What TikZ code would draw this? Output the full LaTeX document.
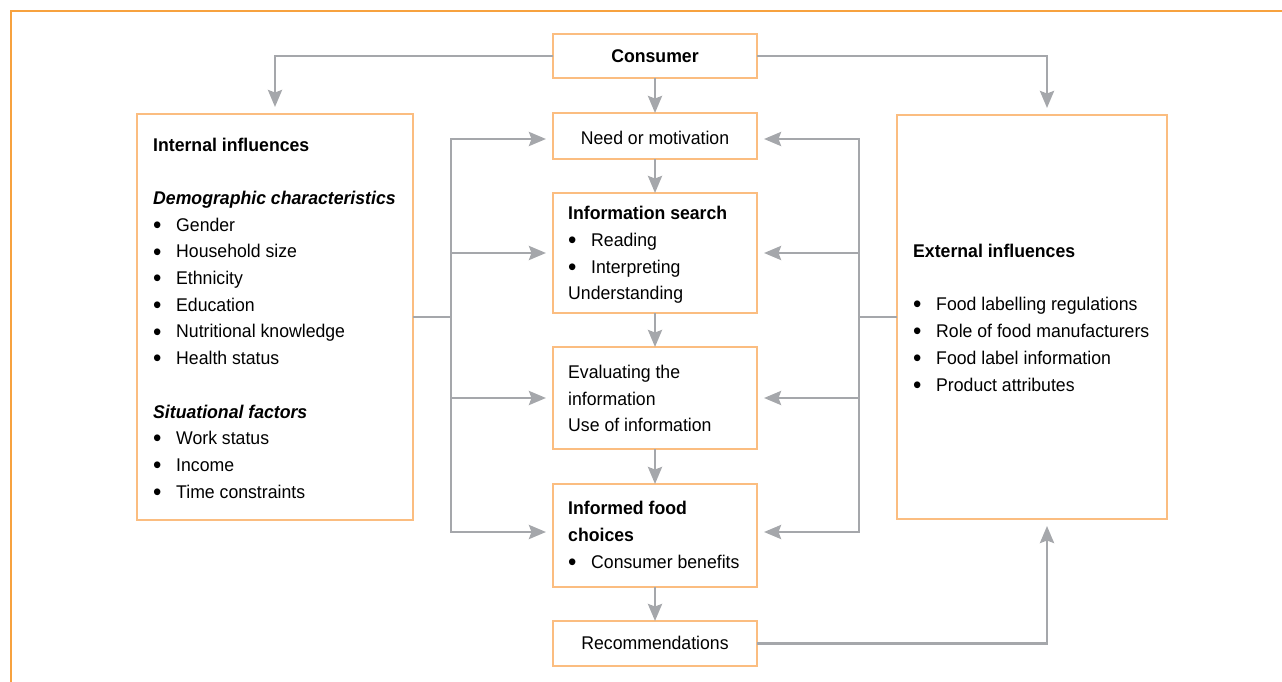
\documentclass[tikz,border=0pt]{standalone}
\usepackage{fontspec}
\setmainfont{Liberation Sans}[FakeStretch=0.96]
\usetikzlibrary{arrows.meta,calc}
\definecolor{arrgray}{HTML}{A5A7AB}
\definecolor{boxor}{HTML}{FBBD80}
\definecolor{frameor}{HTML}{F7A23F}
\newcommand\bul{\makebox[23pt][l]{\raisebox{-2.2pt}{\scalebox{1.35}{\textbullet}}}}
\begin{document}
\begin{tikzpicture}[x=1pt,y=-1pt,
  box/.style={draw=boxor,line width=1.5pt,inner sep=0pt,outer sep=0pt},
  conn/.style={draw=arrgray,line width=2.8pt},
  arr/.style={conn,-{Stealth[length=17pt,width=14pt,inset=2.5pt]}},
  gap/.style={shorten >=7pt},
  txt/.style={anchor=base west,inner sep=0pt},
  ctxt/.style={anchor=base,inner sep=0pt},
  every node/.style={font=\fontsize{18.4}{26.7}\selectfont}]
\useasboundingbox (0,0) rectangle (1282,682);
\draw[frameor,line width=2pt] (10.5,682) -- (10.5,11) -- (1282,11);

% boxes
\node[box,minimum width=204pt,minimum height=44pt] (cons) at (655,56) {};
\node[box,minimum width=204pt,minimum height=46pt] (need) at (655,136) {};
\node[box,minimum width=204pt,minimum height=120pt] (info) at (655,253) {};
\node[box,minimum width=204pt,minimum height=102pt] (eval) at (655,398) {};
\node[box,minimum width=204pt,minimum height=103pt] (inf) at (655,535.5) {};
\node[box,minimum width=204pt,minimum height=45pt] (rec) at (655,643.5) {};
\node[box,minimum width=276pt,minimum height=406pt] (int) at (275,317) {};
\node[box,minimum width=270pt,minimum height=404pt] (ext) at (1032,317) {};

% texts in centre boxes
\node[ctxt,font=\fontsize{18.4}{26.7}\selectfont\bfseries] (tcons) at (655,63) {Consumer};
\node[ctxt] (tneed) at (655,145) {Need or motivation};
\node[ctxt] (trec) at (655,649.5) {Recommendations};
\node[txt,font=\fontsize{18.4}{26.7}\selectfont\bfseries] (ti1) at (568,219) {Information search};
\node[txt] (ti2) at (568,246) {\bul Reading};
\node[txt] (ti3) at (568,273) {\bul Interpreting};
\node[txt] (ti4) at (568,299.5) {Understanding};
\node[txt] (te1) at (568,378) {Evaluating the};
\node[txt] (te2) at (568,405) {information};
\node[txt] (te3) at (568,431.5) {Use of information};
\node[txt,font=\fontsize{18.4}{26.7}\selectfont\bfseries] (tf1) at (568,514) {Informed food};
\node[txt,font=\fontsize{18.4}{26.7}\selectfont\bfseries] (tf2) at (568,541) {choices};
\node[txt] (tf3) at (568,568) {\bul Consumer benefits};

% internal influences
\node[txt,font=\fontsize{18.4}{26.7}\selectfont\bfseries] (n0) at (153,151) {Internal influences};
\node[txt,font=\fontsize{18.4}{26.7}\selectfont\bfseries\itshape] (n1) at (153,204.4) {Demographic characteristics};
\node[txt] (n2) at (153,231.1) {\bul Gender};
\node[txt] (n3) at (153,257.8) {\bul Household size};
\node[txt] (n4) at (153,284.5) {\bul Ethnicity};
\node[txt] (n5) at (153,311.2) {\bul Education};
\node[txt] (n6) at (153,337.9) {\bul Nutritional knowledge};
\node[txt] (n7) at (153,364.6) {\bul Health status};
\node[txt,font=\fontsize{18.4}{26.7}\selectfont\bfseries\itshape] (n8) at (153,418) {Situational factors};
\node[txt] (n9) at (153,444.7) {\bul Work status};
\node[txt] (n10) at (153,471.4) {\bul Income};
\node[txt] (n11) at (153,498.1) {\bul Time constraints};

% external influences
\node[txt,font=\fontsize{18.4}{26.7}\selectfont\bfseries] (x0) at (913,257) {External influences};
\node[txt] (x1) at (913,310) {\bul Food labelling regulations};
\node[txt] (x2) at (913,337) {\bul Role of food manufacturers};
\node[txt] (x3) at (913,364) {\bul Food label information};
\node[txt] (x4) at (913,391) {\bul Product attributes};

% coordinates
\coordinate (exx) at (1047,0);
\coordinate (LT) at (451,139);
\coordinate (LB) at (451,532);
\coordinate (RT) at (859,139);
\coordinate (RB) at (859,532);

% connectors
\draw[arr,gap] (cons.west) -| (int.north);
\draw[arr,gap] (cons.east) -| (exx |- ext.north);
\draw[arr] (cons.south) -- (need.north);
\draw[arr] (need.south) -- (info.north);
\draw[arr] (info.south) -- (eval.north);
\draw[arr] (eval.south) -- (inf.north);
\draw[arr] (inf.south) -- (rec.north);
\draw[arr,gap] (rec.east) -| (exx |- ext.south);

\draw[conn] (int.east) -- (int.east -| LT);
\draw[arr,gap] (LB) -- (LT) -- (LT -| need.west);
\draw[arr,gap] (LT) -- (LB) -- (LB -| inf.west);
\draw[arr,gap] (LT |- info.west) -- (info.west);
\draw[arr,gap] (LT |- eval.west) -- (eval.west);

\draw[conn] (ext.west) -- (ext.west -| RT);
\draw[arr,gap] (RB) -- (RT) -- (RT -| need.east);
\draw[arr,gap] (RT) -- (RB) -- (RB -| inf.east);
\draw[arr,gap] (RT |- info.east) -- (info.east);
\draw[arr,gap] (RT |- eval.east) -- (eval.east);
\end{tikzpicture}
\end{document}
